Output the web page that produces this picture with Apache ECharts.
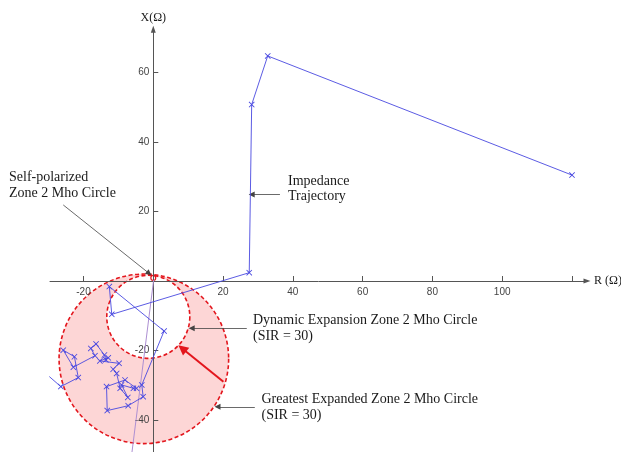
<!DOCTYPE html>
<html><head><meta charset="utf-8">
<script src="https://cdn.jsdelivr.net/npm/echarts@6/dist/echarts.min.js"></script>
<style>html,body{margin:0;padding:0;background:#fff}#c{width:621px;height:452px}</style>
</head><body><div id="c"></div>
<script>
// Impedance trajectory (R, X) in ohms, in plotted order
const trajR = [120, 32.8, 28.2, 27.5, -11.9, -12.6, 3.1, -3.3, -2.9, -7.2, -13.2, -13.4, -8.1, -4.8, -5.7, -9.1, -7.3, -9.5, -10.5, -11.5, -9.8, -15.3, -12.9, -13.6, -14.0, -16.4, -17.9, -16.7, -22.9, -25.8, -22.6, -21.5, -26.5, -29.8];
const trajX = [30.5, 64.8, 50.8, 2.4, -9.6, -1.6, -14.4, -29.9, -33.3, -35.9, -37.3, -30.4, -28.5, -30.9, -30.9, -29.9, -33.5, -30.9, -26.6, -25.4, -23.7, -23.0, -22.1, -22.7, -21.3, -18.1, -19.4, -21.5, -24.8, -19.9, -21.8, -27.8, -30.4, -27.5];
// Faint straight trajectory line
const faintR = [0.1, -6.2];
const faintX = [0.3, -50];
// Mho circles: greatest expanded, dynamic expansion, self-polarized
const circleR = [-2.7, -1.43, 0.0];
const circleX = [-22.4, -10.3, 0.9];
const circleRadius = [24.3, 11.9, 0.7];
// Axis ticks
const xTicks = [-20, 20, 40, 60, 80, 100, 120];
const xTickLabels = [-20, 20, 40, 60, 80, 100];
const yTicks = [-40, -20, 20, 40, 60];
// Annotation arrows: [R1, X1, R2, X2]
const noteArrows = [[-25.8, 21.9, -1.2, 2.2], [36.3, 24.9, 28.2, 24.9], [26.8, -13.6, 11.0, -13.6], [29.1, -36.2, 18.4, -36.2]];
const expandArrow = [[20.1, -29.0, 8.3, -19.4]];

const chart = echarts.init(document.getElementById('c'));
const circleStyles = [
  {fill: '#fdd6d6', stroke: '#e3161d', lineWidth: 1.6, lineDash: [4, 2.5]},
  {fill: '#ffffff', stroke: '#e3161d', lineWidth: 1.6, lineDash: [4, 2.5]},
  {fill: 'none', stroke: '#e3161d', lineWidth: 1.2}
];
const crossPath = 'path://M0,1L1,0L5,4L9,0L10,1L6,5L10,9L9,10L5,6L1,10L0,9L4,5Z';
const serif = 'Liberation Serif';
function txt(x, y, s) {
  return {type: 'text', x: x, y: y, style: {text: s, font: '14px "Liberation Serif"', fill: '#1a1a1a', verticalAlign: 'middle', align: 'left'}};
}
const GL = 50, GT = 29.2, GW = 537, GH = 425.5;
const XMIN = -29.6, XMAX = 124.3, YMIN = -50, YMAX = 72.5;
chart.setOption({
  animation: false,
  grid: {left: GL, top: GT, width: GW, height: GH, containLabel: false, outerBoundsMode: 'none'},
  xAxis: {
    type: 'value', min: XMIN, max: XMAX, position: 'bottom',
    offset: -GH * (0 - YMIN) / (YMAX - YMIN),
    axisLine: {onZero: false, symbol: ['none', 'triangle'], symbolSize: [5, 7], lineStyle: {color: '#555', width: 1}},
    axisTick: {inside: true, length: 5, customValues: xTicks, lineStyle: {color: '#555'}},
    axisLabel: {customValues: xTickLabels, fontSize: 10, color: '#444', margin: 6, fontFamily: 'Liberation Sans'},
    splitLine: {show: false},
    name: 'R (Ω)', nameLocation: 'end', nameGap: 7,
    nameTextStyle: {fontFamily: serif, fontSize: 12, color: '#1a1a1a'}
  },
  yAxis: {
    type: 'value', min: YMIN, max: YMAX, position: 'left',
    offset: -GW * (0 - XMIN) / (XMAX - XMIN),
    axisLine: {onZero: false, symbol: ['none', 'triangle'], symbolSize: [5, 7], lineStyle: {color: '#555', width: 1}},
    axisTick: {inside: true, length: 5, customValues: yTicks, lineStyle: {color: '#555'}},
    axisLabel: {customValues: yTicks, fontSize: 10, color: '#444', margin: 4, fontFamily: 'Liberation Sans'},
    splitLine: {show: false},
    name: 'X(Ω)', nameLocation: 'end', nameGap: 5,
    nameTextStyle: {fontFamily: serif, fontSize: 12, color: '#1a1a1a'}
  },
  series: [
    {
      type: 'custom', z: -1, silent: true,
      data: circleR.map((r, i) => [r, circleX[i], circleRadius[i]]),
      renderItem: function (params, api) {
        const c = api.coord([api.value(0), api.value(1)]);
        const rad = api.size([api.value(2), 0])[0];
        return {type: 'circle', shape: {cx: c[0], cy: c[1], r: rad}, style: circleStyles[params.dataIndex]};
      }
    },
    {
      type: 'line', silent: true, symbol: 'none',
      data: faintR.map((r, i) => [r, faintX[i]]),
      lineStyle: {color: '#ad8fd2', width: 1}
    },
    {
      type: 'line', silent: true,
      data: trajR.map((r, i) => [r, trajX[i]]),
      symbol: crossPath, symbolSize: 6, showAllSymbol: true,
      lineStyle: {color: '#4848e0', width: 0.9},
      itemStyle: {color: '#4848e0'}
    },
    {
      type: 'lines', coordinateSystem: 'cartesian2d', silent: true,
      symbol: ['none', 'triangle'], symbolSize: [4, 6],
      lineStyle: {color: '#444', width: 0.8, opacity: 1},
      data: noteArrows.map(a => ({coords: [[a[0], a[1]], [a[2], a[3]]]}))
    },
    {
      type: 'lines', coordinateSystem: 'cartesian2d', silent: true,
      symbol: ['none', 'triangle'], symbolSize: [8, 10],
      lineStyle: {color: '#e3161d', width: 2, opacity: 1},
      data: expandArrow.map(a => ({coords: [[a[0], a[1]], [a[2], a[3]]]}))
    }
  ],
  graphic: [
    txt(9, 177, 'Self-polarized'),
    txt(9, 193.5, 'Zone 2 Mho Circle'),
    txt(288, 181, 'Impedance'),
    txt(288, 196.5, 'Trajectory'),
    txt(253, 320, 'Dynamic Expansion Zone 2 Mho Circle'),
    txt(253, 336, '(SIR = 30)'),
    txt(261.5, 399, 'Greatest Expanded Zone 2 Mho Circle'),
    txt(261.5, 415, '(SIR = 30)')
  ]
});
</script>
</body></html>
